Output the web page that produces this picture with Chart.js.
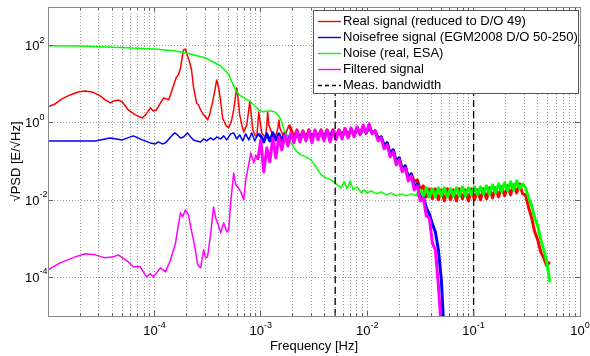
<!DOCTYPE html>
<html>
<head>
<meta charset="utf-8">
<script src="https://cdn.jsdelivr.net/npm/chart.js@4"></script>
<style>html,body{margin:0;padding:0;background:#fff;}canvas{display:block;}</style>
</head>
<body>
<canvas id="c" width="590" height="356"></canvas>
<script>
// ---------------- data ----------------
// Shared frequency grid used by the dense, noisy parts of the spectra [Hz]
const bandFreq = [
  1.000e-3,1.067e-3,1.139e-3,1.216e-3,1.298e-3,1.385e-3,1.478e-3,1.578e-3,1.684e-3,1.797e-3,
  1.918e-3,2.047e-3,2.185e-3,2.332e-3,2.489e-3,2.656e-3,2.835e-3,3.026e-3,3.229e-3,3.447e-3,
  3.679e-3,3.926e-3,4.190e-3,4.472e-3,4.773e-3,5.095e-3,5.437e-3,5.803e-3,6.194e-3,6.611e-3,
  7.055e-3,7.530e-3,8.037e-3,8.578e-3,9.155e-3,9.771e-3,1.043e-2,1.113e-2,1.188e-2,1.268e-2,
  1.353e-2,1.444e-2,1.541e-2,1.645e-2,1.756e-2,1.874e-2,2.000e-2,2.135e-2,2.278e-2,2.432e-2,
  2.595e-2,2.770e-2,2.957e-2,3.156e-2,3.368e-2,3.595e-2,3.837e-2,4.095e-2,4.370e-2,4.665e-2,
  4.979e-2,5.314e-2,5.672e-2,6.054e-2,6.461e-2,6.896e-2,7.360e-2,7.856e-2,8.385e-2,8.949e-2,
  9.551e-2,0.1019,0.1088,0.1161,0.1239,0.1323,0.1412,0.1507,0.1608,0.1717,
  0.1832,0.1956,0.2087,0.2228,0.2378,0.2538,0.2709,0.2891,0.3086,0.3294,
  0.3515,0.3752,0.4005,0.4274,0.4562,0.4869,0.5197
];

// Real signal (reduced to D/O 49)
const realFreq = [
  1e-5,1.164e-5,1.355e-5,1.61e-5,1.92e-5,2.23e-5,2.6e-5,3.09e-5,3.45e-5,3.85e-5,
  4.19e-5,4.57e-5,4.99e-5,5.68e-5,6.62e-5,7.7e-5,8.41e-5,9.17e-5,9.79e-5,1.044e-4,
  1.14e-4,1.22e-4,1.30e-4,1.36e-4,1.447e-4,1.55e-4,1.613e-4,1.68e-4,1.76e-4,1.84e-4,
  1.88e-4,1.96e-4,2.05e-4,2.14e-4,2.234e-4,2.33e-4,2.49e-4,2.6e-4,2.72e-4,2.9e-4,
  3.03e-4,3.16e-4,3.30e-4,3.52e-4,3.68e-4,3.85e-4,4.02e-4,4.2e-4,4.38e-4,4.68e-4,
  4.99e-4,5.33e-4,5.56e-4,5.81e-4,5.94e-4,6.07e-4,6.34e-4,6.62e-4,6.92e-4,7.38e-4,
  7.71e-4,7.87e-4,8.05e-4,8.41e-4,8.78e-4,9.17e-4,9.37e-4,9.57e-4,9.79e-4,1.02e-3,
  1.067e-3,1.11e-3,1.139e-3,1.16e-3,1.19e-3,1.24e-3,1.298e-3,1.39e-3,1.447e-3,1.48e-3,
  1.511e-3,1.61e-3,1.72e-3,1.80e-3,1.837e-3
];
const realPsd = [
  2.59,3.09,4.17,5.29,6.32,6.71,6.32,4.98,3.93,3.28,
  3.70,3.93,3.48,2.16,1.61,1.34,1.71,2.44,2.04,2.16,
  3.28,4.42,4.17,3.93,6.32,11.5,15.5,17.4,26.4,57.3,
  77.1,81.9,53.9,37.8,23.4,8.51,3.28,2.91,2.16,1.61,
  1.43,1.19,1.61,3.48,6.32,12.9,8.02,3.48,1.34,0.885,
  0.741,1.19,2.16,5.29,8.02,5.29,1.61,0.885,0.583,0.885,
  2.16,3.48,2.16,0.657,0.488,0.433,0.885,1.92,1.19,0.55,
  0.46,0.433,0.885,1.92,0.885,0.657,0.46,0.488,0.741,1.19,
  0.741,0.488,0.55,0.741,0.885
];
const realBandStart = 10;
const realBand = [
  0.698,0.408,0.657,0.384,0.619,0.408,0.657,0.384,0.619,0.408,
  0.657,0.408,0.657,0.433,0.657,0.433,0.657,0.460,0.698,0.460,
  0.698,0.488,0.741,0.518,0.786,0.550,0.786,0.550,0.619,0.384,
  0.433,0.253,0.303,0.157,0.200,0.0977,0.124,0.0607,0.0769,0.0376,
  0.0478,0.0297,0.0334,0.0184,0.0234,0.0121,0.0196,0.0108,0.0196,0.0102,
  0.0184,0.00956,0.0196,0.0102,0.0184,0.00956,0.0196,0.0108,0.0184,0.00956,
  0.0196,0.0102,0.0184,0.0102,0.0196,0.0108,0.0208,0.0114,0.0208,0.0121,
  0.0220,0.0129,0.0234,0.0137,0.0248,0.0154,0.0263,0.0145,0.0137,0.0063,
  0.00347,0.00151,0.00094,0.000458,0.00032,0.000199,0.000253
];

// Noisefree signal (EGM2008 D/O 50-250)
const noiseFreeFreq = [
  1e-5,2e-5,2.78e-5,3.85e-5,4.99e-5,6.34e-5,7.7e-5,9.17e-5,1.02e-4,1.09e-4,
  1.19e-4,1.27e-4,1.42e-4,1.55e-4,1.65e-4,1.76e-4,1.88e-4,2.05e-4,2.19e-4,2.33e-4,
  2.49e-4,2.72e-4,2.90e-4,3.10e-4,3.37e-4,3.60e-4,3.85e-4,4.20e-4,4.48e-4,4.78e-4,
  5.21e-4,5.56e-4,5.94e-4,6.34e-4,6.76e-4,7.21e-4,7.71e-4,8.22e-4,8.78e-4,9.37e-4
];
const noiseFreePsd = [
  0.341,0.341,0.341,0.408,0.362,0.460,0.362,0.303,0.285,0.321,
  0.285,0.303,0.433,0.550,0.488,0.408,0.433,0.550,0.433,0.362,
  0.341,0.321,0.384,0.341,0.408,0.362,0.433,0.384,0.460,0.362,
  0.518,0.550,0.384,0.488,0.341,0.518,0.362,0.550,0.341,0.518
];
const noiseFreeBandStart = 0;
const noiseFreeBand = [
  0.460,0.321,0.518,0.341,0.550,0.362,0.518,0.341,0.550,0.362,
  0.518,0.362,0.550,0.384,0.550,0.384,0.583,0.384,0.583,0.408,
  0.583,0.408,0.619,0.408,0.619,0.433,0.619,0.433,0.657,0.460,
  0.657,0.488,0.698,0.518,0.741,0.550,0.786,0.550,0.619,0.384,
  0.433,0.253,0.303,0.157,0.200,0.0977,0.124,0.0607,0.0769,0.0376,
  0.0478,0.0220,0.0263,0.0121,0.0129,0.0063,0.00441,0.00243,0.00151,0.000516,
  0.0000865,0.0000024
];

// Noise (real, ESA)
const noiseFreq = [
  1e-5,2e-5,4.78e-5,1e-4,1.58e-4,2.19e-4,3.03e-4,4.2e-4,4.99e-4,5.44e-4,
  5.94e-4,6.48e-4,7.21e-4,8.05e-4,8.97e-4,9.57e-4,1.045e-3,1.139e-3,1.24e-3,1.355e-3,
  1.447e-3,1.55e-3,1.61e-3,1.68e-3,1.80e-3,1.92e-3,2.14e-3,2.38e-3,2.66e-3,2.96e-3,
  3.3e-3,3.68e-3,4.1e-3,4.57e-3,5.1e-3,5.69e-3,6.07e-3,6.48e-3,6.92e-3,7.38e-3,
  8.05e-3,8.78e-3,9.37e-3,1e-2,1.09e-2,1.22e-2,1.36e-2,1.51e-2,1.68e-2,1.88e-2,
  2.09e-2,2.33e-2,2.6e-2,2.9e-2
];
const noisePsd = [
  99.7,98,89.6,81.9,72.7,60.8,47.9,29.7,18.5,10.2,
  6.32,4.98,4.17,3.48,2.59,2.16,1.92,2.04,2.04,1.92,
  1.61,1.19,0.834,0.583,0.408,0.303,0.188,0.148,0.1315,0.110,
  0.0725,0.045,0.0376,0.0334,0.0263,0.0208,0.0297,0.0196,0.0315,0.0184,
  0.022,0.0154,0.0184,0.0154,0.0174,0.0145,0.0164,0.0137,0.0154,0.0129,
  0.0145,0.0129,0.0145,0.0129
];
const noiseBandStart = 53;
const noiseBand = [
  0.0184,0.0129,0.0208,0.0121,0.0196,0.0121,0.0208,0.0129,0.0208,0.0121,
  0.0196,0.0129,0.0208,0.0129,0.0220,0.0129,0.0208,0.0137,0.0220,0.0137,
  0.0220,0.0145,0.0234,0.0145,0.0248,0.0154,0.0263,0.0164,0.0280,0.0174,
  0.0297,0.0184,0.0315,0.0196,0.0263,0.0208,0.0114,0.0071,0.00347,0.00216,
  0.00094,0.000516,0.000253,0.0000767
];

// Filtered signal
const filteredFreq = [
  1e-5,1.30e-5,1.80e-5,2.23e-5,2.78e-5,3.45e-5,4.10e-5,4.57e-5,5.68e-5,6.34e-5,
  7.38e-5,8.41e-5,9.17e-5,9.79e-5,1.14e-4,1.27e-4,1.42e-4,1.58e-4,1.68e-4,1.76e-4,
  1.84e-4,1.96e-4,2.09e-4,2.19e-4,2.33e-4,2.44e-4,2.55e-4,2.72e-4,2.90e-4,3.03e-4,
  3.16e-4,3.37e-4,3.60e-4,3.76e-4,3.93e-4,4.20e-4,4.48e-4,4.78e-4,4.99e-4,5.21e-4,
  5.56e-4,5.81e-4,6.07e-4,6.48e-4,6.92e-4,7.21e-4,7.53e-4,8.05e-4,8.59e-4,8.97e-4,
  9.37e-4
];
const filteredPsd = [
  1.57e-4,2.38e-4,3.40e-4,4.07e-4,3.83e-4,3.20e-4,3.40e-4,3.83e-4,2.53e-4,1.88e-4,
  1.88e-4,1.03e-4,1.24e-4,1.03e-4,1.77e-4,1.39e-4,2.85e-4,7.83e-4,2.29e-3,4.68e-3,
  3.69e-3,5.6e-3,4.16e-3,2.03e-3,9.4e-4,4.58e-4,2.11e-4,1.77e-4,5.16e-4,3.20e-4,
  3.40e-4,1.26e-3,6.68e-3,3.47e-3,2.58e-3,1.42e-3,2.58e-3,1.51e-3,1.70e-3,8.49e-3,
  0.0507,0.0248,0.022,0.01635,0.0102,0.0334,0.0607,0.167,0.092,0.148,
  0.110
];
const filteredBandStart = 0;
const filteredBand = [
  0.362,0.0538,0.225,0.0977,0.408,0.124,0.433,0.200,0.488,0.253,
  0.550,0.303,0.619,0.321,0.583,0.341,0.619,0.303,0.657,0.362,
  0.619,0.341,0.657,0.321,0.619,0.362,0.657,0.384,0.698,0.408,
  0.741,0.433,0.786,0.488,0.885,0.550,0.940,0.518,0.619,0.341,
  0.408,0.212,0.269,0.1315,0.177,0.0817,0.110,0.0538,0.0683,0.0315,
  0.0424,0.0184,0.0234,0.00956,0.0114,0.00391,0.00347,0.000783,0.000516,0.0000642,
  0.0000044
];

// Measurement bandwidth edges [Hz]
const bandwidthEdges = [0.005, 0.1];

// Axis ranges and labelled decades (exponents of 10)
const xRange = [1e-5, 1];
const yRange = [1e-5, 1e3];
const xLabelExps = [-4, -3, -2, -1, 0];
const yLabelExps = [-4, -2, 0, 2];
const xGridDecades = [1e-5, 1e-4, 1e-3, 1e-2, 1e-1];
const xGridMultipliers = [1, 2, 3, 4, 5, 6, 7, 8, 9];

// Texts
const legendLabels = [
  'Real signal (reduced to D/O 49)',
  'Noisefree signal (EGM2008 D/O 50-250)',
  'Noise (real, ESA)',
  'Filtered signal',
  'Meas. bandwidth'
];
const xTitle = 'Frequency [Hz]';
const yTitle = '\u221APSD [E/\u221AHz]';

// ---------------- styles ----------------
const colors = ['#ff0000', '#0000ff', '#00ff00', '#ff00ff', '#000000'];
const FONT = '"Liberation Sans", Arial, Helvetica, sans-serif';
const THIN = 1.5, THICK = 3;

// ---------------- build datasets ----------------
function pairs(f, v) { return f.map((x, i) => ({ x: x, y: v[i] })); }
function bandPairs(vals, start, prev) {
  const out = prev ? [prev] : [];
  vals.forEach((y, i) => out.push({ x: bandFreq[start + i], y: y }));
  return out;
}
function lineDs(data, color, width, order) {
  return { data: data, borderColor: color, borderWidth: width, pointRadius: 0,
           tension: 0, fill: false, order: order, clip: 0, borderJoinStyle: 'round' };
}
const realThin = pairs(realFreq, realPsd);
const nfThin = pairs(noiseFreeFreq, noiseFreePsd);
const noiseThin = pairs(noiseFreq, noisePsd);
const filtThin = pairs(filteredFreq, filteredPsd);

const datasets = [
  lineDs(realThin, colors[0], THIN, 4),
  lineDs(bandPairs(realBand, realBandStart, realThin[realThin.length - 1]), colors[0], THICK, 4),
  lineDs(nfThin, colors[1], THIN, 3),
  lineDs(bandPairs(noiseFreeBand, noiseFreeBandStart, nfThin[nfThin.length - 1]), colors[1], THICK, 3),
  lineDs(noiseThin, colors[2], THIN, 2),
  lineDs(bandPairs(noiseBand, noiseBandStart, noiseThin[noiseThin.length - 1]), colors[2], THICK, 2),
  lineDs(filtThin, colors[3], THIN, 1),
  lineDs(bandPairs(filteredBand, filteredBandStart, filtThin[filtThin.length - 1]), colors[3], THICK, 1)
];
bandwidthEdges.forEach(f => {
  const ds = lineDs([{ x: f, y: yRange[0] }, { x: f, y: yRange[1] }], colors[4], 1.3, 0);
  ds.borderDash = [7, 4];
  datasets.push(ds);
});

// ---------------- decorations plugin ----------------
function align(p) { return Math.round(p - 0.5) + 0.5; }
const decor = {
  id: 'decor',
  afterDraw(chart) {
    const ctx = chart.ctx, a = chart.chartArea, xs = chart.scales.x, ys = chart.scales.y;
    ctx.save();
    // inward tick marks
    ctx.strokeStyle = '#606060'; ctx.lineWidth = 1; ctx.setLineDash([]);
    ctx.beginPath();
    xs.ticks.forEach(t => {
      const px = align(xs.getPixelForValue(t.value));
      const lg = Math.log10(t.value);
      const major = Math.abs(lg - Math.round(lg)) < 1e-6;
      const L = major ? 5 : 3;
      ctx.moveTo(px, a.bottom); ctx.lineTo(px, a.bottom - L);
      ctx.moveTo(px, a.top); ctx.lineTo(px, a.top + L);
    });
    ys.ticks.forEach(t => {
      const py = align(ys.getPixelForValue(t.value));
      ctx.moveTo(a.left, py); ctx.lineTo(a.left + 5, py);
      ctx.moveTo(a.right, py); ctx.lineTo(a.right - 5, py);
    });
    ctx.stroke();
    // axes box
    ctx.strokeStyle = '#8a8a8a';
    ctx.strokeRect(Math.round(a.left) + 0.5, Math.round(a.top) + 0.5,
                   Math.round(a.right - a.left), Math.round(a.bottom - a.top));
    // tick labels
    const big = '13px ' + FONT, small = '9px ' + FONT;
    ctx.fillStyle = '#000'; ctx.textAlign = 'left'; ctx.textBaseline = 'alphabetic';
    xLabelExps.forEach(e => {
      const px = xs.getPixelForValue(Math.pow(10, e));
      const es = String(e);
      ctx.font = big; const w1 = ctx.measureText('10').width;
      ctx.font = small; const w2 = ctx.measureText(es).width;
      const x0 = px - (w1 + w2) / 2;
      ctx.font = big; ctx.fillText('10', x0, a.bottom + 19);
      ctx.font = small; ctx.fillText(es, x0 + w1, a.bottom + 12);
    });
    yLabelExps.forEach(e => {
      const py = ys.getPixelForValue(Math.pow(10, e));
      const es = String(e);
      ctx.font = big; const w1 = ctx.measureText('10').width;
      const x0 = a.left - 23;
      ctx.fillText('10', x0, py + 4.5);
      ctx.font = small; ctx.fillText(es, x0 + w1, py - 3);
    });
    // axis titles
    ctx.font = big; ctx.textAlign = 'center';
    ctx.fillText(xTitle, (a.left + a.right) / 2, a.bottom + 34);
    ctx.save();
    ctx.translate(20, (a.top + a.bottom) / 2);
    ctx.rotate(-Math.PI / 2);
    ctx.fillText(yTitle, 0, 0);
    ctx.restore();
    // legend
    const lx = 313.5, ly = 10.5, lw = 265, lh = 83;
    ctx.fillStyle = '#ffffff'; ctx.fillRect(lx, ly, lw, lh);
    ctx.strokeStyle = '#555555'; ctx.lineWidth = 1; ctx.strokeRect(lx, ly, lw, lh);
    ctx.textAlign = 'left'; ctx.textBaseline = 'middle'; ctx.font = big;
    legendLabels.forEach((lab, i) => {
      const yy = 20.7 + i * 16.1;
      ctx.strokeStyle = colors[i]; ctx.lineWidth = 1.4;
      ctx.setLineDash(i === 4 ? [4, 3] : []);
      ctx.beginPath(); ctx.moveTo(318, Math.round(yy) + 0.5); ctx.lineTo(341, Math.round(yy) + 0.5); ctx.stroke();
      ctx.fillStyle = '#000'; ctx.fillText(lab, 343, yy + 0.5);
    });
    ctx.restore();
  }
};

// ---------------- chart ----------------
new Chart(document.getElementById('c'), {
  type: 'line',
  data: { datasets: datasets },
  options: {
    responsive: false, animation: false, devicePixelRatio: 1,
    layout: { padding: { left: 48, top: 7, right: 10, bottom: 40 } },
    plugins: { legend: { display: false }, tooltip: { enabled: false } },
    scales: {
      x: {
        type: 'logarithmic', min: xRange[0], max: xRange[1],
        ticks: { display: false },
        grid: { color: '#a0a0a0', lineWidth: 1, drawTicks: false },
        border: { display: false, dash: [1, 2] },
        afterBuildTicks: s => {
          const t = [];
          xGridDecades.forEach(d => xGridMultipliers.forEach(m => t.push({ value: d * m })));
          t.push({ value: xRange[1] });
          s.ticks = t;
        }
      },
      y: {
        type: 'logarithmic', min: yRange[0], max: yRange[1],
        ticks: { display: false },
        grid: { color: '#a0a0a0', lineWidth: 1, drawTicks: false },
        border: { display: false, dash: [1, 2] },
        afterBuildTicks: s => { s.ticks = yLabelExps.map(e => ({ value: Math.pow(10, e) })); }
      }
    }
  },
  plugins: [decor]
});
</script>
</body>
</html>
